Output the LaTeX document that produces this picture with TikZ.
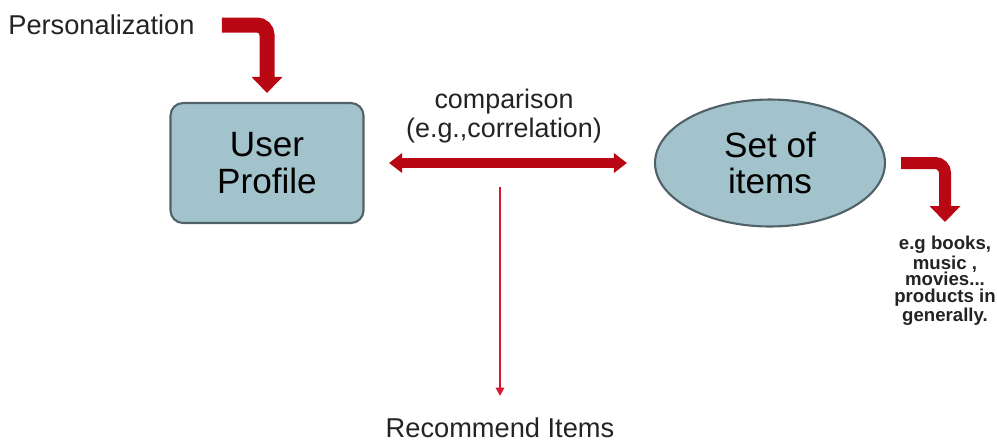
\documentclass[tikz,border=0pt]{standalone}
\usepackage{fontspec}
\setmainfont{Liberation Sans}
\usetikzlibrary{arrows.meta, shapes.geometric}
\definecolor{boxfill}{RGB}{163,195,204}
\definecolor{boxdraw}{RGB}{80,98,104}
\definecolor{arrowred}{RGB}{185,8,20}
\definecolor{thinred}{RGB}{215,25,50}
\definecolor{textgray}{RGB}{35,35,35}
\tikzset{
profile/.style={
  draw=boxdraw,
  fill=boxfill,
  line width=1.2pt,
  rounded corners=0.25cm,
  minimum width=3.86cm, minimum height=2.4cm, align=center,
  font=\fontsize{20}{21.5}\selectfont
  },
itemset/.style={
  ellipse,
  draw=boxdraw,
  fill=boxfill,
  line width=1.2pt,
  minimum width=4.6cm, minimum height=2.54cm, align=center,
  font=\fontsize{20}{20.5}\selectfont
  },
note/.style={inner sep=0pt, align=center, text=textgray},
bigarrow/.style={draw=arrowred, line width=0.3cm, rounded corners=0.2cm, -{Triangle[width=0.6cm, length=0.32cm]}},
twoway/.style={draw=arrowred, line width=0.2cm, {Triangle[width=0.38cm, length=0.26cm]}-{Triangle[width=0.38cm, length=0.26cm]}},
recline/.style={draw=thinred, line width=1.1pt, -{Triangle[width=0.17cm, length=0.17cm]}}
}
\begin{document}
\begin{tikzpicture}[x=0.02cm, y=-0.02cm]
\useasboundingbox (0,0) rectangle (997,441);

\node[note, anchor=west, font=\fontsize{15.5}{17}\selectfont]	(pers)	at (8,25)	{Personalization};
\node[profile]	(user)		at (267,163)	{User \\ Profile};
\node[itemset]	(items)		at (770,163)	{Set of \\ items};
\node[note, font=\fontsize{15.3}{17}\selectfont]	(comp)	at (504,116)	{comparison \\ (e.g.,correlation)};
\coordinate		(split)		at (500,187);
\node[note, anchor=north, font=\fontsize{15.5}{17}\selectfont]	(rec)	at (500,417)	{Recommend Items};
\node[note, anchor=north, font=\bfseries\fontsize{10.6}{9.4}\selectfont]	(examples)	at (945,236)	{e.g books, \\ music , \\ movies... \\ products in \\ generally.};

\draw[bigarrow, shorten <=0.54cm, shorten >=0.18cm] (pers.east) -| (user.north);
\draw[twoway, shorten <=0.49cm, shorten >=0.54cm] (user.east) -- (items.west);
\draw[recline, shorten >=0.42cm] (split) -- (rec);
\draw[bigarrow, line width=0.24cm, shorten <=0.3cm, shorten >=0.28cm] (items.east) -| (examples.north);
\end{tikzpicture}
\end{document}
